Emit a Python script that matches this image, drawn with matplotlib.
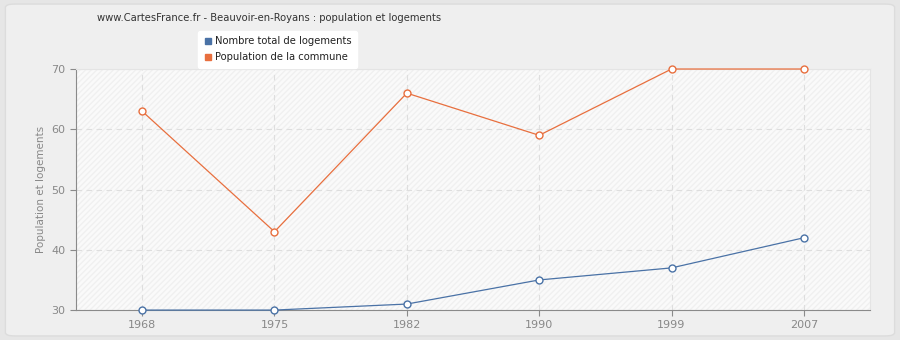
import matplotlib.pyplot as plt
from matplotlib.patches import FancyBboxPatch, Rectangle

years = ["1968", "1975", "1982", "1990", "1999", "2007"]
logements = [30, 30, 31, 35, 37, 42]
population = [63, 43, 66, 59, 70, 70]

blue = "#4a72a6"
orange = "#e86f3e"

fig = plt.figure(figsize=(9, 3.4), dpi=100)
fig.patch.set_facecolor("#e6e6e6")

# rounded outer panel, kept behind the axes
panel = FancyBboxPatch((0.006, 0.012), 0.988, 0.976, boxstyle="round,pad=0,rounding_size=0.01",
                       transform=fig.transFigure, facecolor="#efefef", edgecolor="#dcdcdc",
                       linewidth=1, zorder=-10)
fig.patches.append(panel)

ax = fig.add_axes([0.0844, 0.088, 0.8823, 0.709])
ax.set_facecolor("#fafafa")
ax.add_patch(Rectangle((0, 0), 1, 1, transform=ax.transAxes, facecolor="none",
                       edgecolor="#f0f0f0", hatch="//////", linewidth=0, zorder=0))

x = list(range(len(years)))
ax.plot(x, logements, color=blue, linewidth=0.9, marker="o", markersize=5,
        markerfacecolor="white", markeredgecolor=blue, markeredgewidth=1.0, zorder=3,
        clip_on=False)
ax.plot(x, population, color=orange, linewidth=0.9, marker="o", markersize=5,
        markerfacecolor="white", markeredgecolor=orange, markeredgewidth=1.0, zorder=3,
        clip_on=False)

ax.set_xlim(-0.5, 5.5)
ax.set_ylim(30, 70)
ax.set_yticks([30, 40, 50, 60, 70])
ax.set_xticks(x)
ax.set_xticklabels(years)
ax.grid(True, color="#dedede", linestyle=(0, (5, 4)), linewidth=0.8)
ax.set_axisbelow(True)

for side in ["top", "right"]:
    ax.spines[side].set_color("#e4e4e4")
    ax.spines[side].set_linewidth(0.8)
for side in ["left", "bottom"]:
    ax.spines[side].set_color("#8a8a8a")
ax.tick_params(colors="#8a8a8a", labelsize=8, length=4, width=0.8)
ax.tick_params(labelcolor="#888888")
ax.set_ylabel("Population et logements", fontsize=7.5, color="#888888")

fig.text(0.108, 0.948, "www.CartesFrance.fr - Beauvoir-en-Royans : population et logements",
         fontsize=7.2, color="#333333", ha="left", va="center")

leg = fig.legend(handles=[
    plt.Line2D([], [], color=blue, marker="s", linestyle="none", markersize=4),
    plt.Line2D([], [], color=orange, marker="s", linestyle="none", markersize=4)],
    labels=["Nombre total de logements", "Population de la commune"],
    loc="upper left", bbox_to_anchor=(0.214, 0.925), fontsize=7.2, frameon=True,
    handletextpad=0.2, handlelength=1.0, borderpad=0.55, labelspacing=0.6, fancybox=True)
leg.get_frame().set_edgecolor("white")
leg.get_frame().set_facecolor("white")
leg.get_frame().set_alpha(1)
for t in leg.get_texts():
    t.set_color("#222222")

fig.savefig("out.png", dpi=100, facecolor=fig.get_facecolor())
